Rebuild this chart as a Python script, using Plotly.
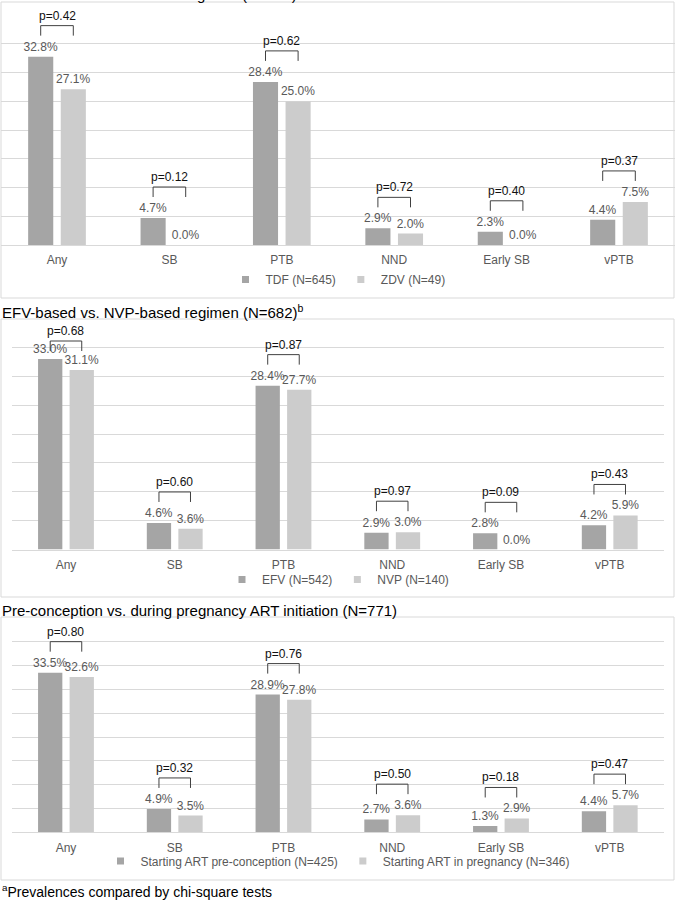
import plotly.graph_objects as go

# ---------------- data ----------------
categories = ["Any", "SB", "PTB", "NND", "Early SB", "vPTB"]

title1 = "TDF-based vs. ZDV-based regimen (N=694)"
tdf_name = "TDF (N=645)"
zdv_name = "ZDV (N=49)"
tdf_vals = [32.8, 4.7, 28.4, 2.9, 2.3, 4.4]
zdv_vals = [27.1, 0.0, 25.0, 2.0, 0.0, 7.5]
p1_vals = ["0.42", "0.12", "0.62", "0.72", "0.40", "0.37"]

title2 = "EFV-based vs. NVP-based regimen (N=682)<sup>b</sup>"
efv_name = "EFV (N=542)"
nvp_name = "NVP (N=140)"
efv_vals = [33.0, 4.6, 28.4, 2.9, 2.8, 4.2]
nvp_vals = [31.1, 3.6, 27.7, 3.0, 0.0, 5.9]
p2_vals = ["0.68", "0.60", "0.87", "0.97", "0.09", "0.43"]

title3 = "Pre-conception vs. during pregnancy ART initiation (N=771)"
pre_name = "Starting ART pre-conception (N=425)"
preg_name = "Starting ART in pregnancy (N=346)"
pre_vals = [33.5, 4.9, 28.9, 2.7, 1.3, 4.4]
preg_vals = [32.6, 3.5, 27.8, 3.6, 2.9, 5.7]
p3_vals = ["0.80", "0.32", "0.76", "0.50", "0.18", "0.47"]

footnote = "<sup>a</sup>Prevalences compared by chi-square tests"

# ---------------- style / layout ----------------
W, H = 676, 900
FONT = "Liberation Sans, Arial, Helvetica, sans-serif"
DARK = "#A5A5A5"
LIGHT = "#CCCCCC"
GRID = "#D9D9D9"
TXT = "#595959"
BARGAP = 0.42
BARGROUPGAP = 0.23

panels = [
    dict(title=title1, names=(tdf_name, zdv_name), a=tdf_vals, b=zdv_vals, p=p1_vals,
         box=(2, 298), base=245.0, ppu=5.743, xl=0.8, xr=675.2, gridmax=35,
         title_y=-5.5, legend_y=279.5),
    dict(title=title2, names=(efv_name, nvp_name), a=efv_vals, b=nvp_vals, p=p2_vals,
         box=(319, 597), base=549.5, ppu=5.77, xl=11.6, xr=664.1, gridmax=35,
         title_y=311.5, legend_y=579.5),
    dict(title=title3, names=(pre_name, preg_name), a=pre_vals, b=preg_vals, p=p3_vals,
         box=(617, 880), base=832.3, ppu=4.765, xl=11.6, xr=664.1, gridmax=40,
         title_y=610.0, legend_y=861.0),
]

fig = go.Figure()
layout = dict(
    width=W, height=H, autosize=False,
    margin=dict(l=0, r=0, t=0, b=0),
    paper_bgcolor="white", plot_bgcolor="white",
    barmode="group", bargap=BARGAP, bargroupgap=BARGROUPGAP,
    font=dict(family=FONT, size=12, color=TXT),
)
shapes = []
annotations = []
xs = list(range(len(categories)))
off = (1 - BARGAP) / 4.0

for i, pnl in enumerate(panels):
    n = "" if i == 0 else str(i + 1)
    xa_name, ya_name = "x" + n, "y" + n
    leg = "legend" + n
    box_top, box_bot = pnl["box"]
    base, ppu = pnl["base"], pnl["ppu"]
    ytop = (base - box_top) / ppu

    layout["xaxis" + n] = dict(
        domain=[pnl["xl"] / W, pnl["xr"] / W], anchor=ya_name,
        range=[-0.5, len(categories) - 0.5],
        tickmode="array", tickvals=xs, ticktext=categories,
        ticks="outside", ticklen=4, tickcolor="rgba(0,0,0,0)",
        tickfont=dict(size=12, color=TXT, family=FONT),
        showline=True, linecolor=GRID, linewidth=1,
        showgrid=False, zeroline=False, fixedrange=True,
    )
    layout["yaxis" + n] = dict(
        domain=[1 - base / H, 1 - box_top / H], anchor=xa_name,
        range=[0, ytop],
        tickmode="array", tickvals=list(range(5, pnl["gridmax"] + 1, 5)),
        showticklabels=False, ticks="",
        showgrid=True, gridcolor=GRID, gridwidth=1,
        zeroline=False, showline=False, fixedrange=True,
    )

    for vals, color, name in ((pnl["a"], DARK, pnl["names"][0]), (pnl["b"], LIGHT, pnl["names"][1])):
        fig.add_trace(go.Bar(
            x=xs, y=vals, xaxis=xa_name, yaxis=ya_name,
            marker=dict(color=color, line=dict(width=0)),
            text=[f"{v:.1f}%" for v in vals], textposition="outside",
            textfont=dict(size=12, color=TXT, family=FONT),
            cliponaxis=False, constraintext="none",
            showlegend=False, name=name, hoverinfo="skip",
        ))
        fig.add_trace(go.Scatter(
            x=[None], y=[None], xaxis=xa_name, yaxis=ya_name, mode="markers",
            marker=dict(symbol="square", size=7, color=color),
            name=name, legend=leg, showlegend=True, hoverinfo="skip",
        ))

    layout[leg] = dict(
        orientation="h", x=0.5, xanchor="center",
        y=1 - pnl["legend_y"] / H, yanchor="middle",
        font=dict(size=12, color=TXT, family=FONT),
        bgcolor="rgba(0,0,0,0)", itemwidth=30, traceorder="normal",
    )

    # p-value brackets
    for j in xs:
        m = max(pnl["a"][j], pnl["b"][j])
        bar_top_px = base - m * ppu
        text_px = bar_top_px - 41
        shift = max(0.0, (box_top + 12) - text_px)
        lo, hi = 21 - shift, 31 - shift
        x0, x1 = j - off, j + off
        shapes.append(dict(
            type="path", xref=xa_name, yref=ya_name,
            ysizemode="pixel", yanchor=m,
            path=f"M{x0},{lo} L{x0},{hi} L{x1},{hi} L{x1},{lo}",
            line=dict(color="#404040", width=1),
        ))
        annotations.append(dict(
            x=j, y=m, xref=xa_name, yref=ya_name, yshift=41 - shift,
            text=f"p={pnl['p'][j]}", showarrow=False,
            font=dict(size=12, color="#111111", family=FONT),
            xanchor="center", yanchor="middle",
        ))

    # panel frame
    shapes.append(dict(
        type="rect", xref="paper", yref="paper",
        x0=1 / W, x1=674 / W, y0=1 - box_bot / H, y1=1 - box_top / H,
        line=dict(color=GRID, width=1), fillcolor="rgba(0,0,0,0)", layer="below",
    ))
    # panel title
    annotations.append(dict(
        x=0, y=1 - pnl["title_y"] / H, xref="paper", yref="paper",
        xanchor="left", yanchor="middle", text=pnl["title"], showarrow=False,
        font=dict(size=15, color="#000000", family=FONT),
    ))

annotations.append(dict(
    x=0, y=1 - 890.5 / H, xref="paper", yref="paper",
    xanchor="left", yanchor="middle", text=footnote, showarrow=False,
    font=dict(size=14, color="#000000", family=FONT),
))

layout["shapes"] = shapes
layout["annotations"] = annotations
fig.update_layout(**layout)

fig.write_html("out.html", config={"displayModeBar": False},
               post_script="document.body.style.margin='0';")
